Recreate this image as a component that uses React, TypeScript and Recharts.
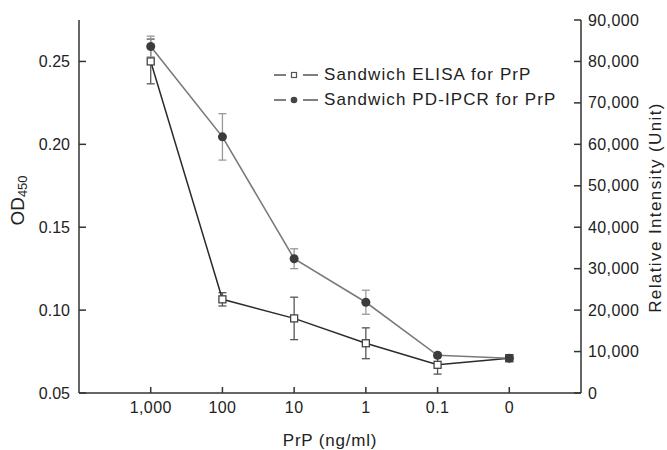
import React from 'react'
import { ErrorBar, Legend, Line, LineChart, XAxis, YAxis } from 'recharts'

// PrP concentration (ng/ml), placed at positions 1..6 on the x axis
const categories = ['1,000', '100', '10', '1', '0.1', '0']
const elisaOD = [0.25, 0.1065, 0.095, 0.08, 0.067, 0.071]
const elisaErr = [0.0135, 0.004, 0.0128, 0.0093, 0.0056, 0.002]
const ipcrIntensity = [83600, 61800, 32400, 21900, 9100, 8400]
const ipcrErr = [2500, 5600, 2400, 2900, 600, 400]

const xTicks = [1, 2, 3, 4, 5, 6]
const odTicks = [0.05, 0.1, 0.15, 0.2, 0.25]
const intensityTicks = [0, 10000, 20000, 30000, 40000, 50000, 60000, 70000, 80000, 90000]

const data = categories.map((c, i) => ({
  pos: i + 1,
  label: c,
  elisa: elisaOD[i],
  elisaErr: elisaErr[i],
  ipcr: ipcrIntensity[i],
  ipcrErr: ipcrErr[i],
}))

const FONT = '"Liberation Sans", Arial, Helvetica, sans-serif'
const AXIS = '#333'
const TEXT = '#222'

const LeftTick = ({ x, y, payload }: any) => (
  <g>
    <line x1={x + 9} x2={x + 16} y1={y} y2={y} stroke={AXIS} strokeWidth={1.5} />
    <text x={x} y={y} dy={5.5} textAnchor="end" fontSize={16} fontFamily={FONT} fill={TEXT}>
      {payload.value.toFixed(2)}
    </text>
  </g>
)

const RightTick = ({ x, y, payload }: any) => (
  <g>
    <line x1={x - 7} x2={x - 14} y1={y} y2={y} stroke={AXIS} strokeWidth={1.5} />
    <text x={x} y={y} dy={5.5} textAnchor="start" fontSize={16} fontFamily={FONT} fill={TEXT} letterSpacing={0.4}>
      {payload.value.toLocaleString('en-US')}
    </text>
  </g>
)

const BottomTick = ({ x, y, payload }: any) => (
  <g>
    <line x1={x} x2={x} y1={y - 6} y2={y - 12} stroke={AXIS} strokeWidth={1.5} />
    <text x={x} y={y} dy={14} textAnchor="middle" fontSize={16} fontFamily={FONT} fill={TEXT} letterSpacing={0.4}>
      {categories[payload.value - 1]}
    </text>
  </g>
)

const SquareDot = ({ cx, cy }: any) => (
  <rect x={cx - 3.5} y={cy - 3.5} width={7} height={7} fill="#fff" stroke="#444" strokeWidth={1.3} />
)

const CircleDot = ({ cx, cy }: any) => <circle cx={cx} cy={cy} r={4.5} fill="#3c3c3c" />

const legendRows = [
  { name: 'Sandwich ELISA for PrP', kind: 'square' },
  { name: 'Sandwich PD-IPCR for PrP', kind: 'circle' },
]

const renderLegend = () => (
  <div style={{ fontFamily: FONT, fontSize: 17, color: TEXT, letterSpacing: 1.1 }}>
    {legendRows.map((r) => (
      <div key={r.name} style={{ display: 'flex', alignItems: 'center', height: 25 }}>
        <svg width={46} height={14} style={{ marginRight: 5 }}>
          <line x1={1} x2={13} y1={7} y2={7} stroke="#555" strokeWidth={1.5} />
          <line x1={30} x2={45} y1={7} y2={7} stroke="#555" strokeWidth={1.5} />
          {r.kind === 'square' ? (
            <rect x={18.5} y={4.5} width={5} height={5} fill="#fff" stroke="#555" strokeWidth={1.2} />
          ) : (
            <circle cx={21} cy={7} r={3.3} fill="#444" />
          )}
        </svg>
        <span>{r.name}</span>
      </div>
    ))}
  </div>
)

export default function App() {
  return (
    <div style={{ position: 'relative' }}>
      <style>{'body{margin:0}'}</style>
      <LineChart width={667} height={450} data={data} margin={{ top: 20, right: 0, left: 0, bottom: 0 }}>
        <XAxis
          dataKey="pos"
          type="number"
          domain={[0, 7]}
          ticks={xTicks}
          height={57}
          stroke={AXIS}
          strokeWidth={1.5}
          tickLine={false}
          tickSize={0}
          tickMargin={6}
          tick={<BottomTick />}
          label={{
            content: ({ viewBox }: any) => (
              <text
                x={viewBox.x + viewBox.width / 2}
                y={446}
                textAnchor="middle"
                fontSize={17}
                fontFamily={FONT}
                fill={TEXT}
                letterSpacing={0.8}
              >
                PrP (ng/ml)
              </text>
            ),
          }}
        />
        <XAxis xAxisId="top" orientation="top" dataKey="pos" type="number" domain={[0, 7]} height={0} tick={false} tickLine={false} stroke={AXIS} strokeWidth={1.5} />
        <YAxis
          yAxisId="od"
          domain={[0.05, 0.275]}
          ticks={odTicks}
          width={79}
          stroke={AXIS}
          strokeWidth={1.5}
          tickLine={false}
          tickSize={0}
          tickMargin={9}
          tick={<LeftTick />}
          allowDataOverflow
          label={{
            content: ({ viewBox }: any) => {
              const cx = 24
              const cy = viewBox.y + viewBox.height / 2 - 6
              return (
                <text transform={`translate(${cx},${cy}) rotate(-90)`} textAnchor="middle" fontFamily={FONT} fill={TEXT} fontSize={19}>
                  OD<tspan fontSize={13} dy={3}>450</tspan>
                </text>
              )
            },
          }}
        />
        <YAxis
          yAxisId="ri"
          orientation="right"
          domain={[0, 90000]}
          ticks={intensityTicks}
          width={86}
          stroke={AXIS}
          strokeWidth={1.5}
          tickLine={false}
          tickSize={0}
          tickMargin={7}
          tick={<RightTick />}
          label={{
            content: ({ viewBox }: any) => {
              const cx = 661
              const cy = viewBox.y + viewBox.height / 2 + 1
              return (
                <text transform={`translate(${cx},${cy}) rotate(-90)`} textAnchor="middle" fontFamily={FONT} fill={TEXT} fontSize={17} letterSpacing={1.4}>
                  Relative Intensity (Unit)
                </text>
              )
            },
          }}
        />
        <Legend
          layout="horizontal"
          verticalAlign="middle"
          align="center"
          content={renderLegend}
          wrapperStyle={{ position: 'absolute', left: 273, top: 62, width: 330 }}
        />
        <Line
          yAxisId="od"
          dataKey="elisa"
          stroke="#2a2a2a"
          strokeWidth={1.5}
          dot={<SquareDot />}
          activeDot={false}
          isAnimationActive={false}
        >
          <ErrorBar dataKey="elisaErr" direction="y" width={4} stroke="#555" strokeWidth={1.3} />
        </Line>
        <Line
          yAxisId="ri"
          dataKey="ipcr"
          stroke="#7a7a7a"
          strokeWidth={1.6}
          dot={<CircleDot />}
          activeDot={false}
          isAnimationActive={false}
        >
          <ErrorBar dataKey="ipcrErr" direction="y" width={4} stroke="#999" strokeWidth={1.3} />
        </Line>
      </LineChart>
    </div>
  )
}
